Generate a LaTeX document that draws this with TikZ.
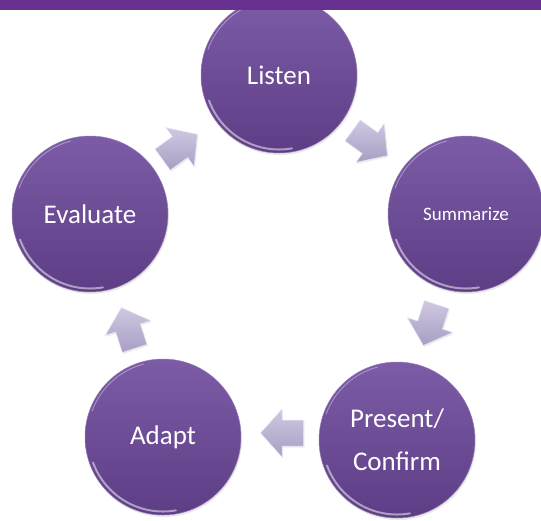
\documentclass[tikz,border=0pt]{standalone}
\usepackage{fontspec}
\setmainfont{Carlito}
\usetikzlibrary{shadows}

\definecolor{bandpurple}{RGB}{104,48,143}
\definecolor{balltop}{RGB}{125,92,167}
\definecolor{ballbottom}{RGB}{93,61,133}
\definecolor{arrowtop}{RGB}{208,200,226}
\definecolor{arrowbottom}{RGB}{168,158,196}

\begin{document}
\begin{tikzpicture}[
        x = 1pt, y = 1pt, % one unit per pixel
        ball/.style = {circle, minimum size = 156pt, inner sep = 0pt,
            top color = balltop, bottom color = ballbottom,
            draw = balltop!80!white, line width = 0.5pt, text = white,
            align = center, font = \fontsize{27}{43}\selectfont,
            drop shadow = {opacity = 0.18, shadow xshift = 1pt,
            shadow yshift = -2pt}},
        small/.style = {font = \fontsize{19}{23}\selectfont},
        rim/.style = {white, opacity = 0.5, line cap = round},
        blockarrow/.style = {top color = arrowtop, bottom color = arrowbottom,
            draw = white!60!arrowtop, line width = 0.5pt, line join = round,
            drop shadow = {opacity = 0.15, shadow xshift = 1pt,
            shadow yshift = -1.5pt}}
    ]

    \useasboundingbox (0,0) rectangle (541,-520);

    % the five steps
    \node[ball] (listen) at (279,-75) {Listen};
    \node[ball, small] (summarize) at (466,-214) {Summarize};
    \node[ball] (present) at (397,-440) {Present/\\Confirm};
    \node[ball] (adapt) at (163,-437) {Adapt};
    \node[ball] (evaluate) at (90,-214) {Evaluate};

    % glossy edges
    \foreach \n in {listen, summarize, present, adapt, evaluate} {
        \draw[rim, line width = 2pt] ([shift={(200:74.5)}]\n.center)
            arc[start angle = 200, end angle = 280, radius = 74.5];
        \draw[rim, line width = 0.8pt, opacity = 0.4] ([shift={(105:75.5)}]\n.center)
            arc[start angle = 105, end angle = 160, radius = 75.5];
    }

    % arrows between the steps: centre x / centre y / direction
    \foreach \x/\y/\r in {370/-143/-36, 430/-325/-108, 282/-433/180,
        128/-328/108, 180/-147/36} {
        \path[blockarrow, shift = {(\x,\y)}, rotate = \r]
            (-21.5,-13) -- (0,-13) -- (0,-24) -- (21.5,0) -- (0,24)
            -- (0,13) -- (-21.5,13) -- cycle;
    }

    % title band
    \fill[bandpurple] (0,0) rectangle (541,-10);

\end{tikzpicture}
\end{document}
